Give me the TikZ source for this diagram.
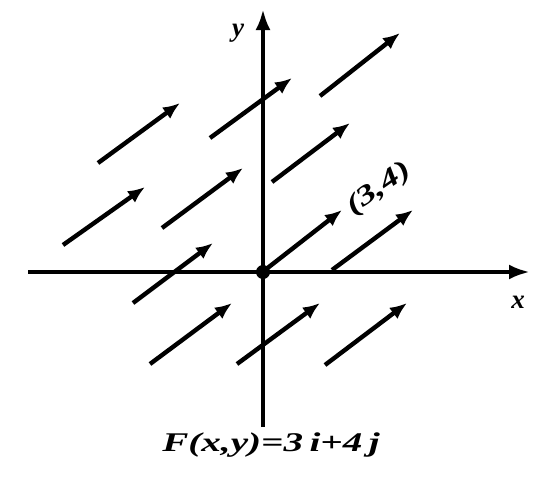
\documentclass[tikz,border=0pt]{standalone}
\usepackage{fontspec}
\setmainfont{Liberation Serif}
\usetikzlibrary{arrows.meta}
\begin{document}
\begin{tikzpicture}[x=1pt,y=-1pt,
  axis/.style={line width=4.2pt,-{Latex[length=21pt,width=15pt]}},
  vec/.style={line width=4.4pt,-{Latex[length=17pt,width=14pt]}},
  lbl/.style={font=\fontsize{27}{29}\selectfont\bfseries\itshape,inner sep=0pt}]
\useasboundingbox (0,0) rectangle (556,479);
% axes
\coordinate (xl) at (28,272);
\coordinate (xr) at (530,272);
\coordinate (yb) at (263,427);
\coordinate (yt) at (263,9);
\coordinate (O) at (263,272);
\draw[axis] (xl) -- (xr);
\draw[axis] (yb) -- (yt);
\fill (O) circle (7pt);
\node[lbl] (ylab) at (238,33) {y};
\node[lbl] (xlab) at (518,302) {x};
% vectors
\foreach \n/\sx/\sy/\ex/\ey in {
  A/98/163/180/103, B/63/245/145/187, C/162/228/243/168,
  D/210/138/292/78, E/272/182/350/123, F/320/96/400/33,
  G/265/270/342/210, H/332/270/413/210, I/133/303/213/243,
  J/150/364/232/303, K/237/364/320/303, L/325/365/407/303}{
  \coordinate (s\n) at (\sx,\sy);
  \coordinate (e\n) at (\ex,\ey);
  \draw[vec] (s\n) -- (e\n);
}
\node[lbl,rotate=35] (pt) at (379,189) {\scalebox{1.4}[1]{(3,4)}};
\node[lbl] (eq) at (271,445) {\scalebox{1.45}[1]{F(x,y)=3\,i+4\,j}};
\end{tikzpicture}
\end{document}
